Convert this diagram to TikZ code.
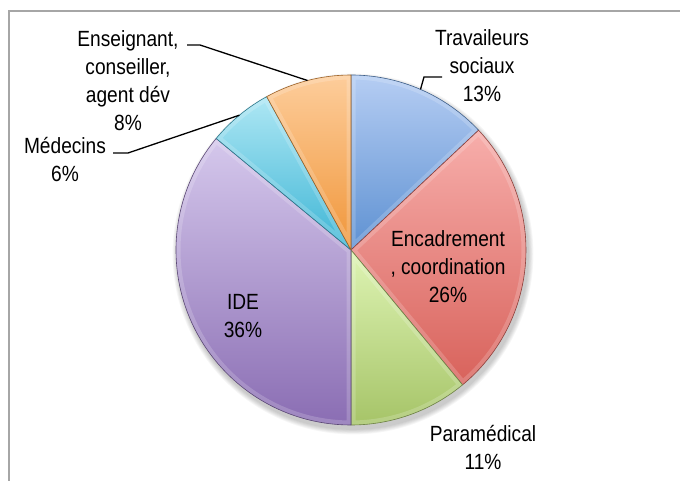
\documentclass[tikz,border=0pt]{standalone}
\usepackage{fontspec}
\setmainfont{Liberation Sans}[FakeStretch=0.87]
\usetikzlibrary{calc}
\definecolor{frameg}{HTML}{A6A6A6}
\definecolor{trT}{HTML}{B5CDF3}\definecolor{trB}{HTML}{5E91D2}
\definecolor{enT}{HTML}{F7AEAB}\definecolor{enB}{HTML}{D8625B}
\definecolor{paT}{HTML}{DEF4B4}\definecolor{paB}{HTML}{A6C468}
\definecolor{idT}{HTML}{D5C8EC}\definecolor{idB}{HTML}{8A6DB3}
\definecolor{meT}{HTML}{AEE7F4}\definecolor{meB}{HTML}{3DB5D5}
\definecolor{esT}{HTML}{FDCD9B}\definecolor{esB}{HTML}{F0963A}
\newcommand\myslice[4]{%
  \begin{scope}
    \clip (C) -- ++(#1:175) arc[start angle=#1, end angle=#2, radius=175] -- cycle;
    \shade[top color=#3, bottom color=#4] (C) -- ++(#1:175) arc[start angle=#1, end angle=#2, radius=175] -- cycle;
    \draw[white, opacity=0.18, line width=9pt] (C) -- ++(#1:175) arc[start angle=#1, end angle=#2, radius=175] -- cycle;
  \end{scope}
  \draw[#4!65!black, line width=0.6pt, line join=round] (C) -- ++(#1:175) arc[start angle=#1, end angle=#2, radius=175] -- cycle;
}
\begin{document}
\begin{tikzpicture}[x=1pt,y=1pt,
  lbl/.style={font=\fontsize{22}{28}\selectfont, align=center, inner sep=0pt, text=black},
  leader/.style={draw=black, line width=1.3pt}]
\useasboundingbox (0,0) rectangle (680,481);
\fill[white] (0,0) rectangle (680,481);
\draw[frameg, line width=1.2pt] (9,0) -- (9,470) -- (680,470);
\coordinate (C) at (351,231);
% soft shadow
\foreach \i in {1,...,6}{\fill[black, opacity=0.035] ($(C)+(2,-4)$) circle (175+\i*0.9);}
% slices
\myslice{90}{43.2}{trT}{trB}
\myslice{43.2}{-50.4}{enT}{enB}
\myslice{-50.4}{-90}{paT}{paB}
\myslice{-90}{-219.6}{idT}{idB}
\myslice{-219.6}{-241.2}{meT}{meB}
\myslice{-241.2}{-270}{esT}{esB}
% labels
\node[lbl] (trav) at (482,415) {Travaileurs\\sociaux\\13\%};
\node[lbl] (enca) at (448,214) {Encadrement\\, coordination\\26\%};
\node[lbl] (para) at (483,33.5) {Paramédical\\11\%};
\node[lbl] (ide) at (243,164.5) {IDE\\36\%};
\node[lbl] (med) at (65,321) {Médecins\\6\%};
\node[lbl] (ens) at (128,400) {Enseignant,\\conseiller,\\agent dév\\8\%};
% leaders
\coordinate (travP) at ($(C)+(66.6:175)$);
\coordinate (travA) at (424,404);
\coordinate (travB) at (442,404);
\draw[leader] (travP) -- (travA) -- (travB);
\coordinate (medP) at ($(C)+(129.6:175)$);
\coordinate (medA) at (113,328);
\coordinate (medB) at (128,328);
\draw[leader] (medA) -- (medB) -- (medP);
\coordinate (ensP) at ($(C)+(104.4:175)$);
\coordinate (ensA) at (187,436);
\coordinate (ensB) at (200,436);
\draw[leader] (ensA) -- (ensB) -- (ensP);
\end{tikzpicture}
\end{document}
